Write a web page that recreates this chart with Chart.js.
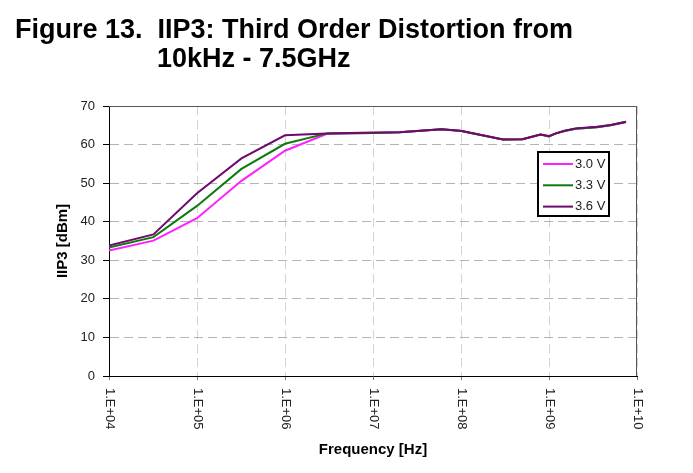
<!DOCTYPE html>
<html>
<head>
<meta charset="utf-8">
<script src="https://cdn.jsdelivr.net/npm/chart.js@4.4.1/dist/chart.umd.min.js"></script>
<style>
  body { margin: 0; background: #fff; }
  #wrap { position: relative; width: 693px; height: 473px; }
  .ttl { position: absolute; font: bold 27px "Liberation Sans", Arial, sans-serif; line-height: 27px; white-space: pre; color: #000; }
</style>
</head>
<body>
<div id="wrap">
  <canvas id="myChart"></canvas>
  <div class="ttl" style="left:15px; top:16px;">Figure 13.  IIP3: Third Order Distortion from</div>
  <div class="ttl" style="left:157px; top:45px;">10kHz - 7.5GHz</div>
</div>
<script>
const freqs = [1e4, 3.2e4, 1e5, 3.2e5, 1e6, 3e6, 1e7, 2e7, 6e7, 1e8, 3e8, 5e8, 8e8, 1e9, 1.2e9, 1.5e9, 2e9, 3.5e9, 5e9, 7.5e9];
const iip3_30 = [32.5, 35.1, 40.9, 50.6, 58.4, 62.8, 63.0, 63.2, 64.0, 63.5, 61.3, 61.4, 62.6, 62.1, 62.9, 63.5, 64.1, 64.5, 65.0, 65.8];
const iip3_33 = [33.3, 36.0, 44.1, 53.7, 60.2, 62.9, 63.0, 63.2, 64.0, 63.5, 61.3, 61.4, 62.6, 62.1, 62.9, 63.5, 64.1, 64.5, 65.0, 65.9];
const iip3_36 = [33.8, 36.7, 47.4, 56.4, 62.4, 62.9, 63.1, 63.2, 64.0, 63.6, 61.3, 61.4, 62.6, 62.2, 62.9, 63.6, 64.2, 64.6, 65.1, 65.9];
const seriesLabels = ["3.0 V", "3.3 V", "3.6 V"];
const xTicks = [1e4, 1e5, 1e6, 1e7, 1e8, 1e9, 1e10];

const FONT = '"Liberation Sans", Arial, sans-serif';

function pts(vals) {
  return vals.map((v, i) => ({ x: freqs[i], y: v }));
}

function expLabel(v) {
  const e = Math.round(Math.log10(v));
  return "1.E+" + (e < 10 ? "0" + e : e);
}

// border, rotated x labels, legend box
const extras = {
  id: "extras",
  afterDraw: (chart) => {
    const { ctx, chartArea } = chart;
    const xs = chart.scales.x;
    ctx.save();
    ctx.strokeStyle = "#555";
    ctx.lineWidth = 1;
    ctx.beginPath();
    ctx.moveTo(chartArea.left, chartArea.top + 0.5);
    ctx.lineTo(chartArea.right - 0.5, chartArea.top + 0.5);
    ctx.lineTo(chartArea.right - 0.5, chartArea.bottom);
    ctx.stroke();

    // x tick labels read top to bottom
    ctx.fillStyle = "#222";
    ctx.font = "13px " + FONT;
    ctx.textAlign = "left";
    ctx.textBaseline = "middle";
    xTicks.forEach((v) => {
      const x = xs.getPixelForValue(v);
      ctx.save();
      ctx.translate(x + 1, chartArea.bottom + 12);
      ctx.rotate(Math.PI / 2);
      ctx.fillText(expLabel(v), 0, 0);
      ctx.restore();
    });

    // legend
    const bx = chartArea.right - 99, by = chartArea.top + 46;
    ctx.fillStyle = "#fff";
    ctx.fillRect(bx, by, 71, 64);
    ctx.strokeStyle = "#000";
    ctx.lineWidth = 2;
    ctx.strokeRect(bx, by, 71, 64);
    ctx.font = "13px " + FONT;
    ctx.textBaseline = "middle";
    chart.data.datasets.forEach((ds, i) => {
      const y = by + 12 + i * 21.3;
      ctx.strokeStyle = ds.borderColor;
      ctx.lineWidth = 2;
      ctx.beginPath();
      ctx.moveTo(bx + 5, y);
      ctx.lineTo(bx + 35, y);
      ctx.stroke();
      ctx.fillStyle = "#222";
      ctx.fillText(ds.label, bx + 37, y);
    });
    ctx.restore();
  },
};

new Chart(document.getElementById("myChart"), {
  type: "line",
  data: {
    datasets: [
      { label: seriesLabels[0], data: pts(iip3_30), borderColor: "#FF20FF", order: 2 },
      { label: seriesLabels[1], data: pts(iip3_33), borderColor: "#0E7A0E", order: 1 },
      { label: seriesLabels[2], data: pts(iip3_36), borderColor: "#6E0A6E", order: 0 },
    ],
  },
  options: {
    responsive: true,
    maintainAspectRatio: false,
    animation: false,
    layout: { padding: { top: 106, right: 56, left: 0, bottom: 0 } },
    elements: {
      point: { radius: 0 },
      line: { borderWidth: 2, tension: 0 },
    },
    plugins: {
      legend: { display: false },
      title: { display: false },
      tooltip: { enabled: false },
    },
    scales: {
      x: {
        type: "logarithmic",
        min: 1e4,
        max: 1e10,
        afterBuildTicks: (scale) => {
          scale.ticks = xTicks.map((v) => ({ value: v }));
        },
        afterFit: (scale) => {
          scale.height = 97;
        },
        ticks: { callback: () => "", autoSkip: false, maxRotation: 0 },
        grid: { color: "#d4d4d4", tickColor: "#777", tickLength: 4 },
        border: { color: "#000", width: 1, dash: [9, 5] },
        title: {
          display: true,
          text: "Frequency [Hz]",
          color: "#000",
          font: { family: FONT, size: 15, weight: "bold" },
          padding: { top: 0, bottom: 14 },
        },
      },
      y: {
        min: 0,
        max: 70,
        afterFit: (scale) => {
          scale.width = 109;
        },
        ticks: {
          stepSize: 10,
          padding: 8,
          color: "#222",
          font: { family: FONT, size: 13 },
        },
        grid: { color: "#b4b4b4", tickColor: "#000", tickLength: 6 },
        border: { color: "#000", width: 1, dash: [9, 5] },
        title: {
          display: true,
          text: "IIP3 [dBm]",
          color: "#000",
          font: { family: FONT, size: 15, weight: "bold" },
          padding: { top: 54, bottom: 0 },
        },
      },
    },
  },
  plugins: [extras],
});
</script>
</body>
</html>
